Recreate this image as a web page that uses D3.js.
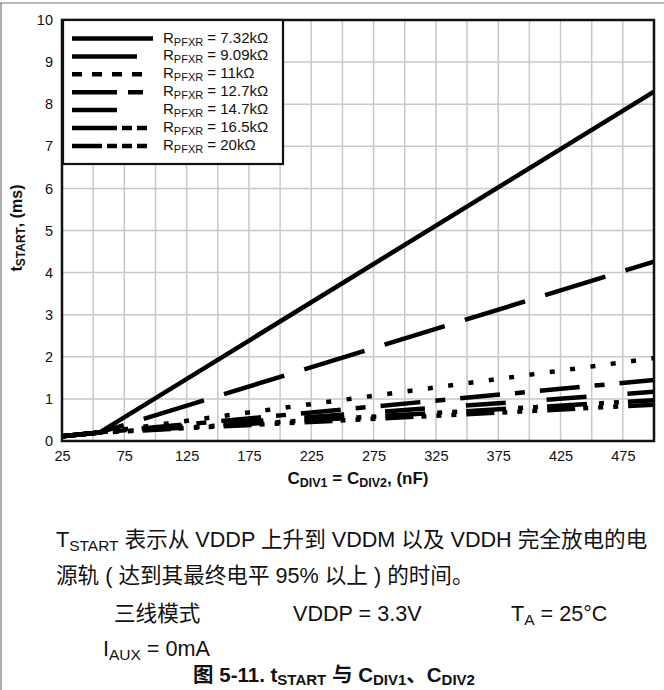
<!DOCTYPE html>
<html>
<head>
<meta charset="utf-8">
<script src="https://cdn.jsdelivr.net/npm/d3@7"></script>
<style>
  body { margin: 0; background: #fff; }
  svg { display: block; }
  text { font-family: "Liberation Sans", Arial, "Noto Sans CJK SC", sans-serif; fill: #111; }
</style>
</head>
<body>
<svg id="chart" width="664" height="690"></svg>
<script>
// capacitance points (nF)
var cdiv = [25, 55, 500];

// tSTART (ms) for each R_PFXR
var r732 = [0.11, 0.20, 8.30];
var r909 = [0.11, 0.20, 4.26];
var r11  = [0.11, 0.20, 1.97];
var r127 = [0.11, 0.20, 1.45];
var r147 = [0.11, 0.20, 1.17];
var r165 = [0.11, 0.20, 0.97];
var r20  = [0.11, 0.20, 0.86];

var seriesNames = ["7.32k\u03A9", "9.09k\u03A9", "11k\u03A9", "12.7k\u03A9", "14.7k\u03A9", "16.5k\u03A9", "20k\u03A9"];
var seriesValues = [r732, r909, r11, r127, r147, r165, r20];

var xTicks = [25, 75, 125, 175, 225, 275, 325, 375, 425, 475];
var yTicks = [0, 1, 2, 3, 4, 5, 6, 7, 8, 9, 10];

// dash styles in the plot and in the legend (they differ in the original)
var plotDash = ["none", "63,21", "5,15.5", "40,15,10,15", "40,41", "40,12,5,10,5,9", "28,8,5,10,5,10,5,10"];
var legDash = ["none", "none", "10,10", "45,11,15,100", "none", "45,5,10,5,10,100", "30,5,10,5,10,5,10,100"];
var legLen = [81, 65, 71, 71, 45, 75, 75];

var svg = d3.select("#chart");

// outer figure frame (top + left only)
svg.append("line").attr("x1", 0).attr("x2", 664).attr("y1", 3).attr("y2", 3)
  .attr("stroke", "#777").attr("stroke-width", 1.2);
svg.append("line").attr("x1", 1).attr("x2", 1).attr("y1", 3).attr("y2", 690)
  .attr("stroke", "#777").attr("stroke-width", 1.2);

var pLeft = 62, pRight = 654, pTop = 20, pBottom = 441;

var x = d3.scaleLinear().domain([25, 500]).range([pLeft, pRight]);
var y = d3.scaleLinear().domain([0, 10]).range([pBottom, pTop]);

// grid
var g = svg.append("g");
g.selectAll(".vg").data(d3.range(50, 500, 25)).enter().append("line")
  .attr("x1", d => x(d)).attr("x2", d => x(d))
  .attr("y1", pTop).attr("y2", pBottom)
  .attr("stroke", "#c8c8c8").attr("stroke-width", 1.5);
g.selectAll(".hg").data(d3.range(1, 10)).enter().append("line")
  .attr("x1", pLeft).attr("x2", pRight)
  .attr("y1", d => y(d)).attr("y2", d => y(d))
  .attr("stroke", "#c8c8c8").attr("stroke-width", 1.5);

// axes (labels only)
var xAxis = svg.append("g").attr("transform", "translate(0," + pBottom + ")")
  .call(d3.axisBottom(x).tickValues(xTicks).tickSize(0).tickPadding(10));
var yAxis = svg.append("g").attr("transform", "translate(" + pLeft + ",0)")
  .call(d3.axisLeft(y).tickValues(yTicks).tickSize(0).tickPadding(9));
[xAxis, yAxis].forEach(function (a) {
  a.select(".domain").remove();
  a.selectAll("text").style("font-size", "14.5px")
    .style("font-family", "'Liberation Sans', Arial, sans-serif").attr("fill", "#222");
});

// series
var line = d3.line().x((d, i) => x(cdiv[i])).y(d => y(d));
svg.append("clipPath").attr("id", "plotclip").append("rect")
  .attr("x", pLeft).attr("y", pTop).attr("width", pRight - pLeft).attr("height", pBottom - pTop);
svg.append("g").attr("clip-path", "url(#plotclip)")
  .selectAll("path").data(seriesValues).enter().append("path")
  .attr("d", line)
  .attr("fill", "none")
  .attr("stroke", "#000")
  .attr("stroke-width", 4.5)
  .attr("stroke-dasharray", (d, i) => plotDash[i]);

// frame
svg.append("rect").attr("x", pLeft).attr("y", pTop)
  .attr("width", pRight - pLeft).attr("height", pBottom - pTop)
  .attr("fill", "none").attr("stroke", "#111").attr("stroke-width", 2.5);

// legend
var leg = svg.append("g");
leg.append("rect").attr("x", 63).attr("y", 20).attr("width", 220).attr("height", 144)
  .attr("fill", "#fff").attr("stroke", "#111").attr("stroke-width", 2.2);
seriesNames.forEach(function (name, i) {
  var ly = 38.5 + i * 17.9;
  leg.append("line").attr("x1", 72).attr("x2", 72 + legLen[i])
    .attr("y1", ly).attr("y2", ly)
    .attr("stroke", "#000").attr("stroke-width", 4.5)
    .attr("stroke-dasharray", legDash[i]);
  var t = leg.append("text").attr("x", 163).attr("y", ly + 4).style("font-size", "15px");
  t.append("tspan").text("R");
  t.append("tspan").attr("dy", 3).style("font-size", "11px").text("PFXR");
  t.append("tspan").attr("dy", -3).text(" = " + name);
});

// axis titles
var xl = svg.append("text").attr("x", 358).attr("y", 484).attr("text-anchor", "middle")
  .style("font-size", "17px").style("font-weight", "bold");
xl.append("tspan").text("C");
xl.append("tspan").attr("dy", 3).style("font-size", "12.5px").text("DIV1");
xl.append("tspan").attr("dy", -3).text(" = C");
xl.append("tspan").attr("dy", 3).style("font-size", "12.5px").text("DIV2");
xl.append("tspan").attr("dy", -3).text(", (nF)");

var yl = svg.append("text").attr("transform", "translate(22,228) rotate(-90)")
  .attr("text-anchor", "middle").style("font-size", "16px").style("font-weight", "bold");
yl.append("tspan").text("t");
yl.append("tspan").attr("dy", 3).style("font-size", "12px").text("START");
yl.append("tspan").attr("dy", -3).text(", (ms)");

// notes below the chart
var fs = "21.6px";
var n1 = svg.append("text").attr("x", 56).attr("y", 547).style("font-size", fs);
n1.append("tspan").text("T");
n1.append("tspan").attr("dy", 4).style("font-size", "15.5px").text("START");
n1.append("tspan").attr("dy", -4).text(" 表示从 VDDP 上升到 VDDM 以及 VDDH 完全放电的电");

svg.append("text").attr("x", 56).attr("y", 583).style("font-size", fs)
  .text("源轨 ( 达到其最终电平 95% 以上 ) 的时间。");

svg.append("text").attr("x", 114).attr("y", 621).style("font-size", fs).text("三线模式");
svg.append("text").attr("x", 293).attr("y", 621).style("font-size", fs).text("VDDP = 3.3V");
var ta = svg.append("text").attr("x", 511).attr("y", 621).style("font-size", fs);
ta.append("tspan").text("T");
ta.append("tspan").attr("dy", 4).style("font-size", "15.5px").text("A");
ta.append("tspan").attr("dy", -4).text(" = 25°C");

var ia = svg.append("text").attr("x", 103).attr("y", 656).style("font-size", fs);
ia.append("tspan").text("I");
ia.append("tspan").attr("dy", 4).style("font-size", "15.5px").text("AUX");
ia.append("tspan").attr("dy", -4).text(" = 0mA");

var cap = svg.append("text").attr("x", 334).attr("y", 682).attr("text-anchor", "middle")
  .style("font-size", "20.5px").style("font-weight", "bold");
cap.append("tspan").text("图 5-11. t");
cap.append("tspan").attr("dy", 3).style("font-size", "15px").text("START");
cap.append("tspan").attr("dy", -3).text(" 与 C");
cap.append("tspan").attr("dy", 3).style("font-size", "15px").text("DIV1");
cap.append("tspan").attr("dy", -3).text("、C");
cap.append("tspan").attr("dy", 3).style("font-size", "15px").text("DIV2");
</script>
</body>
</html>
